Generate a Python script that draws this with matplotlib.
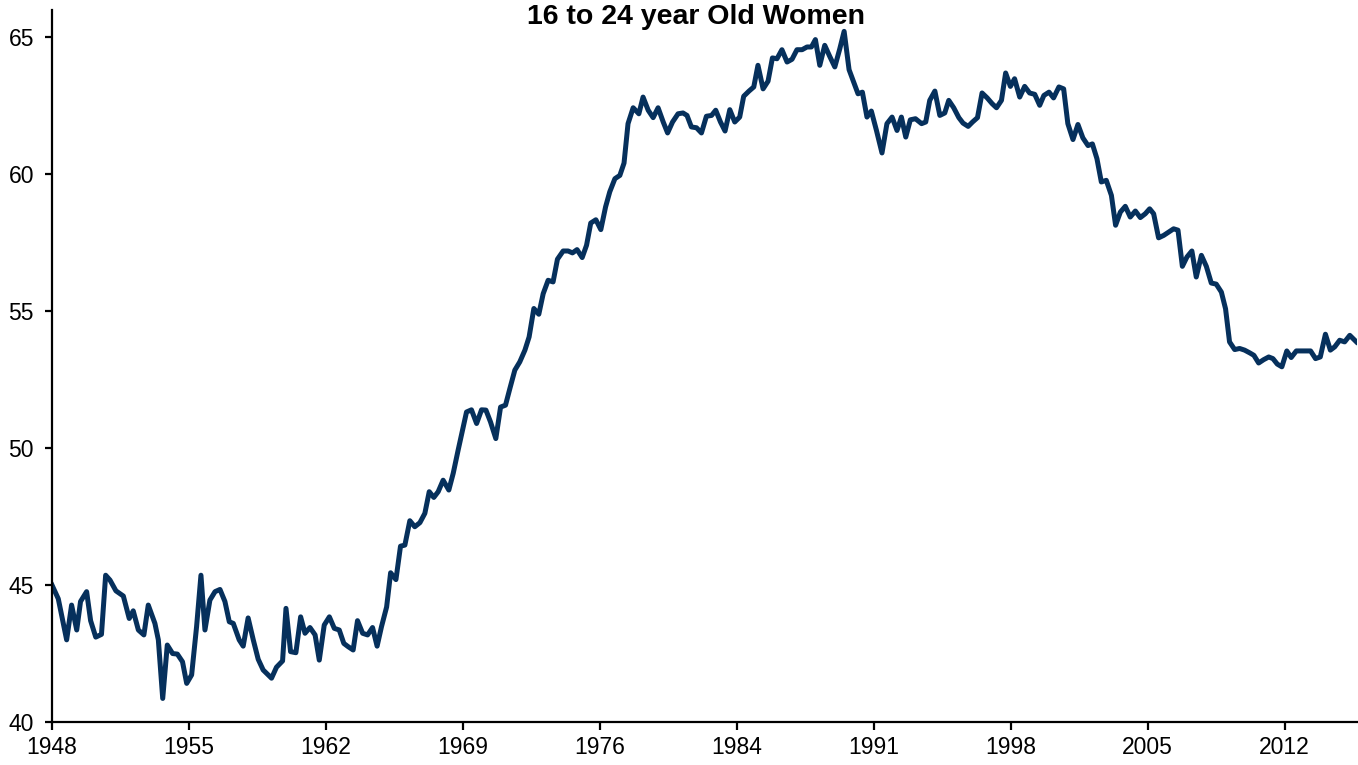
import matplotlib
matplotlib.use('Agg')
import matplotlib.pyplot as plt

plt.rcParams['font.family'] = ['Liberation Sans', 'DejaVu Sans']

# participation rate, 16 to 24 year old women
years = [1948.0, 1948.33, 1948.77, 1949.03, 1949.3, 1949.5, 1949.82, 1950.03, 1950.3, 1950.6,
         1950.82, 1951.05, 1951.36, 1951.75, 1952.06, 1952.27, 1952.54, 1952.83, 1953.06, 1953.41,
         1953.59, 1953.82, 1954.06, 1954.34, 1954.59, 1954.86, 1955.08, 1955.34, 1955.6, 1955.83,
         1956.04, 1956.3, 1956.57, 1956.83, 1957.09, 1957.32, 1957.53, 1957.84, 1958.05, 1958.31,
         1958.58, 1958.84, 1959.1, 1959.54, 1959.8,
         1960.12, 1960.3, 1960.54, 1960.82, 1961.07, 1961.3, 1961.56, 1961.83, 1962.05, 1962.31,
         1962.58, 1962.84, 1963.1, 1963.34, 1963.57, 1963.83, 1964.06, 1964.33, 1964.59, 1964.85,
         1965.09, 1965.32, 1965.59, 1965.8, 1966.08, 1966.32, 1966.55, 1966.81, 1967.07, 1967.34,
         1967.6, 1967.83, 1968.07, 1968.3, 1968.56, 1968.86, 1969.09, 1969.35, 1969.58, 1969.79,
         1970.05,
         1970.32, 1970.58, 1970.81, 1971.05, 1971.33, 1971.58, 1971.84, 1972.07, 1972.33, 1972.59,
         1972.86, 1973.08, 1973.33, 1973.59, 1973.82, 1974.08, 1974.34, 1974.57, 1974.87, 1975.13,
         1975.36, 1975.6, 1975.87, 1976.1, 1976.32, 1976.59, 1976.85, 1977.1, 1977.32, 1977.59,
         1977.85, 1978.07, 1978.28, 1978.55, 1978.85, 1979.07, 1979.34, 1979.6, 1979.86, 1980.13,
         1980.36, 1980.62, 1980.91, 1981.17, 1981.38, 1981.61, 1981.88,
         1982.14, 1982.4, 1982.67, 1982.89, 1983.14, 1983.38, 1983.63, 1983.89, 1984.15, 1984.36,
         1984.64, 1984.89, 1985.11, 1985.38, 1985.64, 1985.87, 1986.11, 1986.37, 1986.64, 1986.9,
         1987.16, 1987.43, 1987.69, 1987.92, 1988.13, 1988.36, 1988.62, 1988.88, 1989.15, 1989.41,
         1989.64, 1989.9, 1990.14, 1990.37, 1990.6, 1990.84, 1991.07, 1991.34, 1991.63, 1991.89,
         1992.16, 1992.42,
         1992.65, 1992.88, 1993.12, 1993.39, 1993.71, 1993.93, 1994.14, 1994.41, 1994.67, 1994.93,
         1995.14, 1995.4, 1995.67, 1995.89, 1996.16, 1996.39, 1996.65, 1996.89, 1997.16, 1997.42,
         1997.65, 1997.91, 1998.13, 1998.38, 1998.6, 1998.87, 1999.13, 1999.39, 1999.66, 1999.92,
         2000.14, 2000.41, 2000.65, 2000.93, 2001.18, 2001.4, 2001.67, 2001.93, 2002.19, 2002.46,
         2002.69, 2002.93, 2003.16, 2003.42,
         2003.69, 2003.91, 2004.16, 2004.42, 2004.68, 2004.95, 2005.21, 2005.47, 2005.7, 2005.91,
         2006.17, 2006.44, 2006.7, 2006.96, 2007.19, 2007.42, 2007.66, 2007.92, 2008.15, 2008.42,
         2008.68, 2008.94, 2009.2, 2009.47, 2009.69, 2009.9, 2010.17, 2010.43, 2010.69, 2010.96,
         2011.18, 2011.43, 2011.69, 2011.96, 2012.18, 2012.41, 2012.65, 2012.91, 2013.14, 2013.41,
         2013.67, 2013.93, 2014.16, 2014.42, 2014.67, 2014.94, 2015.2, 2015.43, 2015.69, 2015.95,
         2016.22, 2016.57]
rate = [45.0, 44.5, 43.0, 44.27, 43.36, 44.4, 44.76, 43.7, 43.1, 43.2,
        45.36, 45.18, 44.79, 44.6, 43.78, 44.06, 43.36, 43.18, 44.27, 43.6,
        43.0, 40.86, 42.81, 42.5, 42.48, 42.2, 41.41, 41.72, 43.48, 45.36,
        43.36, 44.45, 44.76, 44.84, 44.4, 43.66, 43.6, 43.0, 42.77, 43.8,
        43.0, 42.29, 41.9, 41.6, 42.0,
        42.23, 44.15, 42.57, 42.53, 43.84, 43.24, 43.45, 43.18, 42.26, 43.54,
        43.84, 43.42, 43.36, 42.87, 42.75, 42.63, 43.7, 43.24, 43.18, 43.45,
        42.77, 43.48, 44.2, 45.45, 45.2, 46.42, 46.46, 47.35, 47.13, 47.28,
        47.62, 48.41, 48.2, 48.41, 48.83, 48.47, 49.08, 49.93, 50.66, 51.32,
        51.4,
        50.9, 51.4, 51.39, 50.96, 50.35, 51.5, 51.57, 52.18, 52.85, 53.15,
        53.58, 54.06, 55.1, 54.89, 55.64, 56.13, 56.07, 56.9, 57.2, 57.2,
        57.13, 57.25, 56.96, 57.41, 58.22, 58.34, 57.98, 58.81, 59.36, 59.84,
        59.96, 60.41, 61.85, 62.43, 62.21, 62.82, 62.34, 62.07, 62.43, 61.91,
        61.51, 61.91, 62.21, 62.24, 62.15, 61.73, 61.7,
        61.51, 62.12, 62.15, 62.34, 61.91, 61.58, 62.36, 61.91, 62.09, 62.85,
        63.04, 63.19, 63.98, 63.12, 63.4, 64.25, 64.22, 64.55, 64.1, 64.2,
        64.55, 64.55, 64.65, 64.65, 64.92, 63.98, 64.71, 64.31, 63.92, 64.58,
        65.22, 63.82, 63.37, 62.94, 63.0, 62.09, 62.31, 61.6, 60.78, 61.85,
        62.09, 61.6,
        62.09, 61.36, 61.99, 62.03, 61.85, 61.91, 62.7, 63.04, 62.15, 62.24,
        62.7, 62.43, 62.07, 61.87, 61.75, 61.91, 62.07, 62.97, 62.79, 62.58,
        62.43, 62.7, 63.7, 63.21, 63.49, 62.82, 63.21, 62.97, 62.92, 62.52,
        62.88, 63.0, 62.79, 63.19, 63.12, 61.85, 61.27, 61.82, 61.33, 61.05,
        61.11, 60.57, 59.72, 59.78,
        59.23, 58.14, 58.62, 58.83, 58.44, 58.66, 58.42, 58.56, 58.74, 58.56,
        57.68, 57.77, 57.89, 58.01, 57.96, 56.64, 56.98, 57.2, 56.25, 57.04,
        56.64, 56.03, 55.99, 55.7, 55.09, 53.88, 53.6, 53.64, 53.58, 53.48,
        53.39, 53.11, 53.23, 53.33, 53.27, 53.07, 52.97, 53.55, 53.31, 53.55,
        53.55, 53.55, 53.55, 53.27, 53.33, 54.16, 53.58, 53.7, 53.94, 53.88,
        54.12, 53.88]

tick_labels = ['1948', '1955', '1962', '1969', '1976', '1984', '1991', '1998', '2005', '2012']
tick_pos = [1948 + 7.2 * i for i in range(len(tick_labels))]

fig = plt.figure(figsize=(13.58, 7.65), dpi=100)
ax = fig.add_axes([52/1358, 1 - 722/765, (1357 - 52)/1358, (722 - 10)/765])

ax.plot(years, rate, color='#06305C', linewidth=3.6, solid_joinstyle='round')

ax.set_xlim(1948, 2016.6)
ax.set_ylim(40, 66)
ax.set_yticks([40, 45, 50, 55, 60, 65])
ax.set_xticks(tick_pos)
ax.set_xticklabels(tick_labels)

for s in ['top', 'right']:
    ax.spines[s].set_visible(False)
for s in ['left', 'bottom']:
    ax.spines[s].set_linewidth(1.6)
ax.tick_params(axis='x', direction='out', length=6, width=1.6, labelsize=16.5, pad=4)
ax.tick_params(axis='y', direction='out', length=5, width=1.6, labelsize=16.5, pad=8)

fig.text(696/1358, 1 - 17/765, '16 to 24 year Old Women', ha='center', va='center',
         fontsize=20.5, fontweight='bold')

fig.savefig('out.png', dpi=100)
